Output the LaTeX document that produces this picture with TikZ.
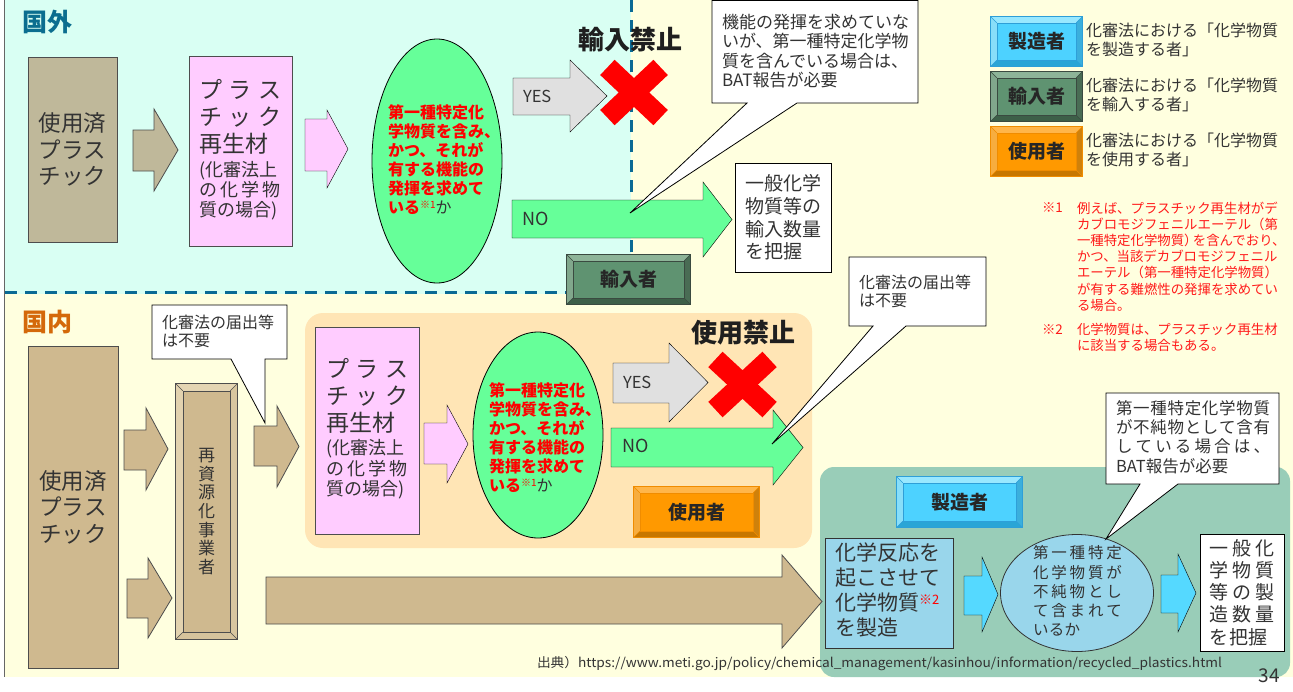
\documentclass[tikz,border=0pt]{standalone}
\usepackage{fontspec}
\usepackage{graphicx}
\setmainfont{Noto Sans CJK JP}
\usetikzlibrary{calc,shapes.geometric}
\definecolor{txtc}{HTML}{333333}
\definecolor{edgec}{HTML}{4D4D4D}
\definecolor{cyanbg}{HTML}{D9FFF3}
\definecolor{yelbg}{HTML}{FFFFDF}
\definecolor{dashc}{HTML}{0A6A94}
\definecolor{khaki}{HTML}{BFB89A}
\definecolor{tan}{HTML}{CFB98F}
\definecolor{tanlight}{HTML}{E4D5B3}
\definecolor{tandark}{HTML}{D6C39C}
\definecolor{pinkc}{HTML}{FFCCFF}
\definecolor{greenc}{HTML}{66FF99}
\definecolor{grayarrow}{HTML}{E0E0E0}
\definecolor{orangebg}{HTML}{FFE5B5}
\definecolor{tealbg}{HTML}{99CDB8}
\definecolor{lblue}{HTML}{99D6EB}
\definecolor{cyanarrow}{HTML}{55D9FF}
\definecolor{kokugai}{HTML}{0B6E8F}
\definecolor{kokunai}{HTML}{D4690A}
\definecolor{notered}{HTML}{FF1A1A}
% buttons
\definecolor{manM}{HTML}{4DD2FF}\definecolor{manL}{HTML}{99E8FF}\definecolor{manD}{HTML}{2AA5D6}\definecolor{manBd}{HTML}{2E9FD8}
\definecolor{impM}{HTML}{5F9371}\definecolor{impL}{HTML}{8DB498}\definecolor{impD}{HTML}{3D5F48}\definecolor{impBd}{HTML}{3A4A40}
\definecolor{useM}{HTML}{FF9900}\definecolor{useL}{HTML}{FFB64A}\definecolor{useD}{HTML}{C77700}\definecolor{useBd}{HTML}{F08C00}
\newcommand\fs[2]{\fontsize{#1}{#2}\selectfont}
\makeatletter
\newcommand\spreadbox[2]{\makebox[#1][s]{\sp@loop#2\@nil}}
\def\sp@loop#1#2\@nil{#1\ifx\relax#2\relax\else\hfill\sp@loop#2\@nil\fi}
\makeatother
\newcommand\barr[8]{\draw[#1] (#2,#5) -- (#3,#5) -- (#3,#7) -- (#4,{(#7+#8)/2}) -- (#3,#8) -- (#3,#6) -- (#2,#6) -- cycle;}
\newcommand\bevel[5]{% node, light, dark, border, width
  \fill[#2] (#1.north west) -- (#1.north east) -- ($(#1.north east)+(-#5,#5)$) -- ($(#1.north west)+(#5,#5)$) -- cycle;
  \fill[#2!85!#3] (#1.north west) -- (#1.south west) -- ($(#1.south west)+(#5,-#5)$) -- ($(#1.north west)+(#5,#5)$) -- cycle;
  \fill[#3] (#1.south west) -- (#1.south east) -- ($(#1.south east)+(-#5,-#5)$) -- ($(#1.south west)+(#5,-#5)$) -- cycle;
  \fill[#3!85!#2] (#1.north east) -- (#1.south east) -- ($(#1.south east)+(-#5,-#5)$) -- ($(#1.north east)+(-#5,#5)$) -- cycle;
  \draw[#4,line width=0.4pt] ($(#1.north west)+(#5,#5)$) rectangle ($(#1.south east)+(-#5,-#5)$);
  \draw[#4,line width=0.4pt] (#1.north west) -- ($(#1.north west)+(#5,#5)$) (#1.north east) -- ($(#1.north east)+(-#5,#5)$) (#1.south west) -- ($(#1.south west)+(#5,-#5)$) (#1.south east) -- ($(#1.south east)+(-#5,-#5)$);
  \draw[#4,line width=0.9pt] (#1.north west) rectangle (#1.south east);
}
\begin{document}
\begin{tikzpicture}[x=1pt,y=-1pt,
  txt/.style={inner sep=0pt,outer sep=0pt,align=left,text=txtc},
  bx/.style={draw=edgec,line width=0.8pt,inner sep=0pt},
  btn/.style={rectangle,inner sep=0pt,text=black!85,font=\bfseries\fs{19}{19}},
  barrow/.style={draw=edgec,line width=0.8pt},
  callout/.style={draw=black,fill=white,line width=0.8pt,line join=miter},
  xmark/.style={draw=red,line width=21pt,line cap=butt},
  dashln/.style={draw=dashc,line width=3pt,dash pattern=on 12pt off 8pt},
]
\useasboundingbox (0,0) rectangle (1293,691);
% backgrounds
\fill[white] (0,0) rectangle (1293,691);
\fill[yelbg] (5,0) rectangle (1293,677);
\fill[cyanbg] (5,0) rectangle (631,294);
\draw[black!60,line width=1pt] (4.5,0) -- (4.5,677);
\draw[dashln] (5,292.5) -- (567,292.5);
\draw[dashln] (631,0) -- (631,255);
% regions
\fill[orangebg,rounded corners=18pt] (305,313) rectangle (812,548);
\fill[tealbg,rounded corners=14pt] (820,467) rectangle (1290,677);

% ===== top (abroad) =====
\node[txt,anchor=west,font=\bfseries\fs{25}{25},text=kokugai] (tGai) at (22,22) {国外};
\node[bx,fill=khaki,minimum width=89pt,minimum height=185pt,align=center,font=\fs{22.5}{26.5},text=txtc] (usedA) at (72.5,149.5) {使用済\\プラス\\チック};
\barr{barrow,fill=khaki}{133}{154}{178}{130}{171}{109}{191}
\node[bx,fill=pinkc,minimum width=103pt,minimum height=190pt] (pinkA) at (240.5,151) {};
\node[txt,anchor=west,font=\fs{23}{27}] (pinkAt1) at (199,117) {\spreadbox{83pt}{プラス}\\\spreadbox{83pt}{チック}\\再生材};
\node[txt,anchor=west,font=\fs{18}{20}] (pinkAt2) at (199,191) {(化審法上\\\spreadbox{82pt}{の化学物}\\質の場合)};
\barr{fill=pinkc}{305}{327}{348}{119}{171}{110}{188}
\node[ellipse,draw=black,line width=0.8pt,fill=greenc,minimum width=130pt,minimum height=244pt,inner sep=0pt] (ellA) at (437,161) {};
\node[txt,anchor=west,text=red,font=\bfseries\fs{16}{19}] (ellAt) at (388,159.5) {第一種特定化\\学物質を含み、\\かつ、それが\\有する機能の\\発揮を求めて\\いる{\mdseries\fs{10}{10}\raisebox{5pt}{※1}}{\mdseries\color{txtc}か}};
\barr{fill=grayarrow}{513}{570}{607}{78}{115}{60}{132}
\node[txt,anchor=west,font=\fs{16.5}{16.5}] (yesA) at (523,96) {YES};
\barr{fill=greenc}{512}{703}{732}{200}{238}{182}{257}
\node[txt,anchor=west,font=\fs{18}{18}] (noA) at (522,219) {NO};
\draw[xmark] (607.4,67.4) -- (660.6,117.6);
\draw[xmark] (607.4,117.6) -- (660.6,67.4);
\node[txt,font=\bfseries\fs{26}{26},text=black!88] (banA) at (630.5,40) {輸入禁止};
\node[bx,draw=black,fill=white,minimum width=96pt,minimum height=109pt,font=\fs{19}{22.7},text=txtc,align=left] (resA) at (783,217.5) {一般化学\\物質等の\\輸入数量\\を把握};
\node[btn,minimum width=123pt,minimum height=49pt,fill=impM] (impA) at (628.5,279.5) {輸入者};
\bevel{impA}{impL}{impD}{impBd}{6}

% ===== legend =====
\node[btn,minimum width=91pt,minimum height=49pt,fill=manM] (legMan) at (1036.5,41.5) {製造者};
\bevel{legMan}{manL}{manD}{manBd}{6}
\node[btn,minimum width=91pt,minimum height=49pt,fill=impM] (legImp) at (1036.5,96.5) {輸入者};
\bevel{legImp}{impL}{impD}{impBd}{6}
\node[btn,minimum width=91pt,minimum height=49pt,fill=useM] (legUse) at (1036.5,151.5) {使用者};
\bevel{legUse}{useL}{useD}{useBd}{6}
\node[txt,anchor=west,font=\fs{16}{19}] (legManT) at (1086,39.5) {化審法における「化学物質\\を製造する者」};
\node[txt,anchor=west,font=\fs{16}{19}] (legImpT) at (1086,94.5) {化審法における「化学物質\\を輸入する者」};
\node[txt,anchor=west,font=\fs{16}{19}] (legUseT) at (1086,149.5) {化審法における「化学物質\\を使用する者」};
% notes
\node[txt,anchor=west,text=notered,font=\fs{13.4}{16.2}] (n1m) at (1042,208) {※1};
\node[txt,anchor=west,text=notered,font=\fs{13.4}{16.2}] (n1) at (1077,256.5) {例えば、プラスチック再生材がデ\\カブロモジフェニルエーテル（第\\一種特定化学物質）\hspace{-0.35em}を含んでおり、\\かつ、当該デカブロモジフェニル\\エーテル（第一種特定化学物質）\\が有する難燃性の発揮を求めてい\\る場合。};
\node[txt,anchor=west,text=notered,font=\fs{13.4}{16.2}] (n2m) at (1042,330) {※2};
\node[txt,anchor=west,text=notered,font=\fs{13.4}{16.2}] (n2) at (1077,337.5) {化学物質は、プラスチック再生材\\に該当する場合もある。};

% ===== bottom (domestic) =====
\node[txt,anchor=west,font=\bfseries\fs{25}{25},text=kokunai] (tNai) at (22,322) {国内};
\node[bx,fill=tan,minimum width=90pt,minimum height=322pt,align=center,font=\fs{22.5}{26.5},text=txtc] (usedB) at (73,507) {使用済\\プラス\\チック};
\barr{barrow,fill=tan}{124}{146}{168}{430}{470}{408}{490}
\barr{barrow,fill=tan}{127}{148}{172}{579}{618}{558}{638}
\node[rectangle,inner sep=0pt,minimum width=61pt,minimum height=255pt,fill=tan,align=center,font=\fs{17}{18.7},text=txtc] (recyc) at (206.5,511.5) {再\\資\\源\\化\\事\\業\\者};
\bevel{recyc}{tanlight}{tandark}{edgec}{7}
\barr{barrow,fill=tan}{254}{277}{299}{426}{466}{406}{487}
\node[bx,fill=pinkc,minimum width=104pt,minimum height=207pt] (pinkB) at (367,430.5) {};
\node[txt,anchor=west,font=\fs{23}{27}] (pinkBt1) at (326,396) {\spreadbox{83pt}{プラス}\\\spreadbox{83pt}{チック}\\再生材};
\node[txt,anchor=west,font=\fs{18}{20.5}] (pinkBt2) at (326,469.5) {(化審法上\\\spreadbox{82pt}{の化学物}\\質の場合)};
\barr{fill=pinkc}{424}{447}{468}{423}{464}{405}{483}
\node[ellipse,draw=black,line width=0.8pt,fill=greenc,minimum width=130pt,minimum height=206pt,inner sep=0pt] (ellB) at (538,435) {};
\node[txt,anchor=west,text=red,font=\bfseries\fs{16}{19}] (ellBt) at (489,437.5) {第一種特定化\\学物質を含み、\\かつ、それが\\有する機能の\\発揮を求めて\\いる{\mdseries\fs{10}{10}\raisebox{5pt}{※1}}{\mdseries\color{txtc}か}};
\barr{fill=grayarrow}{613}{669}{708}{363}{403}{343}{422}
\node[txt,anchor=west,font=\fs{16.5}{16.5}] (yesB) at (623,382) {YES};
\barr{fill=greenc}{611}{773}{803}{428}{467}{410}{485}
\node[txt,anchor=west,font=\fs{18}{18}] (noB) at (622,446) {NO};
\draw[xmark] (715.4,359.4) -- (769.6,409.6);
\draw[xmark] (715.4,409.6) -- (769.6,359.4);
\node[txt,font=\bfseries\fs{26}{26},text=black!88] (banB) at (743,333) {使用禁止};
\node[btn,minimum width=125pt,minimum height=50pt,fill=useM] (useBtn) at (696.5,512) {使用者};
\bevel{useBtn}{useL}{useD}{useBd}{6}
% big arrow
\barr{barrow,fill=tan}{266}{782}{822}{577}{624}{555}{648}
% manufacturer part
\node[btn,minimum width=125pt,minimum height=50pt,fill=manM] (manBtn) at (959.5,502) {製造者};
\bevel{manBtn}{manL}{manD}{manBd}{6}
\node[bx,draw=black!80,fill=lblue,minimum width=128pt,minimum height=110pt] (react) at (889,593) {};
\node[txt,anchor=west,font=\fs{21}{25}] (reactT) at (835,590) {化学反応を\\起こさせて\\化学物質{\fs{13}{13}\raisebox{6pt}{\color{red}※2}}\\を製造};
\barr{fill=cyanarrow}{964}{982}{998}{576}{615}{557}{632}
\node[ellipse,draw=black!80,line width=0.8pt,fill=lblue,minimum width=153pt,minimum height=117pt,inner sep=0pt] (ellC) at (1077,593) {};
\node[txt,anchor=west,font=\fs{15.5}{19.2}] (ellCt) at (1033,591) {\spreadbox{89pt}{第一種特定}\\\spreadbox{89pt}{化学物質が}\\\spreadbox{89pt}{不純物とし}\\\spreadbox{89pt}{て含まれて}\\\spreadbox{47pt}{いるか}};
\barr{fill=cyanarrow}{1161}{1178}{1196}{575}{613}{554}{632}
\node[bx,draw=black,fill=white,minimum width=84pt,minimum height=117pt,font=\fs{19}{22.2},text=txtc,align=left] (resB) at (1242,592.5) {\spreadbox{65pt}{一般化}\\\spreadbox{65pt}{学物質}\\\spreadbox{65pt}{等の製}\\\spreadbox{65pt}{造数量}\\\spreadbox{58pt}{を把握}\hspace{7pt}};

% ===== callouts =====
\coordinate (tipA) at (630,213);
\draw[callout] (712,0.5) -- (918,0.5) -- (918,103) -- (797,103) -- (tipA) -- (747,103) -- (712,103) -- cycle;
\node[txt,anchor=west,font=\fs{17}{19.3}] (cA) at (722,51) {機能の発揮を求めていな\\いが、第一種特定化学物\\質を含んでいる場合は、\\BAT報告が必要};
\coordinate (tipB) at (265,423);
\draw[callout] (152,305) -- (287,305) -- (287,359) -- (265,359) -- (tipB) -- (231,359) -- (152,359) -- cycle;
\node[txt,anchor=west,font=\fs{16}{18}] (cB) at (162,331) {化審法の届出等\\は不要};
\coordinate (tipC) at (772,444);
\draw[callout] (849,257) -- (986,257) -- (986,326) -- (906,326) -- (tipC) -- (873,326) -- (849,326) -- cycle;
\node[txt,anchor=west,font=\fs{16}{18}] (cC) at (859,291) {化審法の届出等\\は不要};
\coordinate (tipD) at (1106,539);
\draw[callout] (1106,393) -- (1279,393) -- (1279,484) -- (1178,484) -- (tipD) -- (1140,484) -- (1106,484) -- cycle;
\node[txt,anchor=west,font=\fs{16.5}{19.3}] (cD) at (1116,437) {\spreadbox{154pt}{第一種特定化学物質}\\\spreadbox{154pt}{が不純物として含有}\\\spreadbox{154pt}{している場合は、}\\BAT報告が必要};

% footer
\node[txt,anchor=west,font=\fs{13}{13}] (src) at (537,664) {\resizebox{685pt}{\height}{出典）https://www.meti.go.jp/policy/chemical\_management/kasinhou/information/recycled\_plastics.html}};
\node[txt,font=\fs{19}{19}] (pg) at (1269,676) {34};
\end{tikzpicture}
\end{document}
